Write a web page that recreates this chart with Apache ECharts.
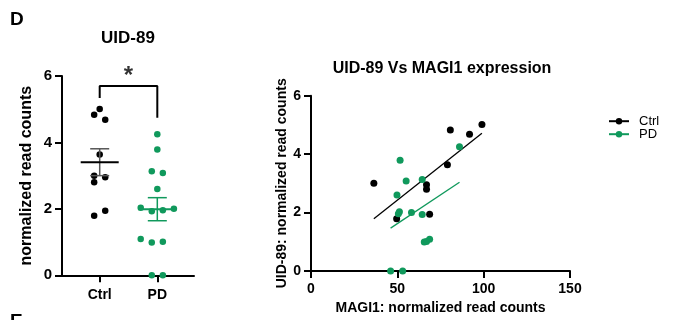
<!DOCTYPE html>
<html><head><meta charset="utf-8">
<script src="https://cdn.jsdelivr.net/npm/echarts@6/dist/echarts.min.js"></script>
<style>html,body{margin:0;padding:0;background:#fff}#c{width:679px;height:320px}</style>
</head><body><div id="c"></div>
<script>
// ---- data ----
const categories = ['Ctrl', 'PD'];
const ctrlUID = [5.01, 4.83, 4.68, 3.64, 3.00, 2.95, 2.80, 1.79, 1.94];
const ctrlJitter = [0, -1, 1, 0, -1, 1, -1, -1, 1];
const pdUID = [4.25, 3.79, 3.13, 3.08, 2.60, 2.03, 1.93, 1.96, 2.00, 1.09, 0.99, 1.01, 0, 0];
const pdJitter = [0, 0, -1, 1, 0, -3, -1, 1, 3, -3, -1, 1, -1, 1];
const ctrlMAGI1 = [99.0, 80.7, 91.8, 79.0, 36.4, 66.9, 66.9, 49.6, 68.7];
const pdMAGI1 = [86.0, 51.6, 64.4, 55.1, 49.8, 51.2, 64.4, 50.6, 58.2, 68.7, 65.6, 66.9, 46.1, 53.1];
const yTicks = [0, 2, 4, 6];
const xTicks = [0, 50, 100, 150];
const sigBracket = [5.34, 5.70, 4.74];
const sigLabel = '*';

// ---- helpers ----
const FONT = '"Liberation Sans", Arial, sans-serif';
const BLACK = '#000000', GREEN = '#10995c';
const mean = a => a.reduce((s, v) => s + v, 0) / a.length;
const sem = a => { const m = mean(a); return Math.sqrt(a.reduce((s, v) => s + (v - m) * (v - m), 0) / (a.length - 1)) / Math.sqrt(a.length); };
function fit(xs, ys) {
  const mx = mean(xs), my = mean(ys);
  let sxy = 0, sxx = 0;
  xs.forEach((x, i) => { sxy += (x - mx) * (ys[i] - my); sxx += (x - mx) * (x - mx); });
  const b = sxy / sxx, a = my - b * mx;
  const x0 = Math.min(...xs), x1 = Math.max(...xs);
  return [[x0, a + b * x0], [x1, a + b * x1]];
}
const J = 0.096;
const catPos = n => categories.indexOf(n) + 1;

function meanSemSeries(name, vals, meanColor, semColor) {
  return {
    type: 'custom', name: name, xAxisIndex: 0, yAxisIndex: 0, z: 5,
    data: [[catPos(name), mean(vals), sem(vals)]],
    renderItem(params, api) {
      const x = api.value(0), m = api.value(1), s = api.value(2);
      const pm = api.coord([x, m]), pt = api.coord([x, m + s]), pb = api.coord([x, m - s]);
      return { type: 'group', children: [
        { type: 'line', shape: { x1: pt[0], y1: pt[1], x2: pb[0], y2: pb[1] }, style: { stroke: semColor, lineWidth: 1.5 } },
        { type: 'line', shape: { x1: pt[0] - 9.5, y1: pt[1], x2: pt[0] + 9.5, y2: pt[1] }, style: { stroke: semColor, lineWidth: 1.5 } },
        { type: 'line', shape: { x1: pb[0] - 9.5, y1: pb[1], x2: pb[0] + 9.5, y2: pb[1] }, style: { stroke: semColor, lineWidth: 1.5 } },
        { type: 'line', shape: { x1: pm[0] - 19, y1: pm[1], x2: pm[0] + 19, y2: pm[1] }, style: { stroke: meanColor, lineWidth: 2 } }
      ]};
    }
  };
}

const axisCommon = {
  axisLine: { show: true, lineStyle: { color: BLACK, width: 2 } },
  axisTick: { show: true, length: 7, lineStyle: { color: BLACK, width: 2 } },
  splitLine: { show: false }
};
const lblStyle = (size, margin) => ({ color: BLACK, fontWeight: 'bold', fontSize: size, fontFamily: FONT, margin: margin });

const chart = echarts.init(document.getElementById('c'), null, { renderer: 'canvas' });
chart.setOption({
  backgroundColor: '#ffffff',
  animation: false,
  graphic: [
    { type: 'text', style: { text: 'D', x: 10, y: 20, textVerticalAlign: 'middle', font: 'bold 19px ' + FONT, fill: BLACK } },
    { type: 'text', style: { text: 'E', x: 10, y: 322, textVerticalAlign: 'middle', font: 'bold 19px ' + FONT, fill: BLACK } },
    { type: 'text', style: { text: 'UID-89', x: 128, y: 38, textAlign: 'center', textVerticalAlign: 'middle', font: 'bold 17px ' + FONT, fill: BLACK } },
    { type: 'text', style: { text: 'UID-89 Vs MAGI1 expression', x: 442, y: 69, textAlign: 'center', textVerticalAlign: 'middle', font: 'bold 16px ' + FONT, fill: BLACK } }
  ],
  legend: {
    data: categories, orient: 'vertical', left: 608, top: 114.7, padding: 0,
    itemWidth: 20, itemHeight: 8, itemGap: 0,
    textStyle: { fontSize: 13, lineHeight: 12.3, fontFamily: FONT, color: BLACK, padding: [0, 0, 0, 5] }
  },
  grid: [
    { left: 62, right: 485, top: 76, bottom: 44.7 },
    { left: 311, right: 109, top: 95.7, bottom: 48.3 }
  ],
  xAxis: [
    Object.assign({}, axisCommon, {
      type: 'value', gridIndex: 0, min: 0.3455, max: 2.637,
      axisTick: { show: true, length: 7, customValues: [1, 2], lineStyle: { color: BLACK, width: 2 } },
      axisLabel: Object.assign(lblStyle(14, 13), { customValues: [1, 2], formatter: v => categories[Math.round(v) - 1] || '' })
    }),
    Object.assign({}, axisCommon, {
      type: 'value', gridIndex: 1, min: xTicks[0], max: xTicks[xTicks.length - 1], interval: xTicks[1] - xTicks[0],
      axisLabel: lblStyle(14, 11),
      name: 'MAGI1: normalized read counts', nameLocation: 'middle', nameGap: 30,
      nameTextStyle: { color: BLACK, fontWeight: 'bold', fontSize: 14, fontFamily: FONT }
    })
  ],
  yAxis: [
    Object.assign({}, axisCommon, {
      type: 'value', gridIndex: 0, min: yTicks[0], max: yTicks[yTicks.length - 1], interval: yTicks[1] - yTicks[0],
      axisLabel: lblStyle(15, 10),
      name: 'normalized read counts', nameLocation: 'middle', nameGap: 27,
      nameTextStyle: { color: BLACK, fontWeight: 'bold', fontSize: 16, fontFamily: FONT }
    }),
    Object.assign({}, axisCommon, {
      type: 'value', gridIndex: 1, min: yTicks[0], max: yTicks[yTicks.length - 1], interval: yTicks[1] - yTicks[0],
      axisLabel: lblStyle(14, 10),
      name: 'UID-89: normalized read counts', nameLocation: 'middle', nameGap: 19,
      nameTextStyle: { color: BLACK, fontWeight: 'bold', fontSize: 14, fontFamily: FONT }
    })
  ],
  series: [
    // right panel: regression lines (first, so legend uses line icon)
    { type: 'line', name: 'Ctrl', xAxisIndex: 1, yAxisIndex: 1, data: fit(ctrlMAGI1, ctrlUID),
      symbol: 'circle', symbolSize: 6, showSymbol: false, color: BLACK,
      lineStyle: { color: BLACK, width: 1.3 }, itemStyle: { color: BLACK }, z: 2 },
    { type: 'line', name: 'PD', xAxisIndex: 1, yAxisIndex: 1, data: fit(pdMAGI1, pdUID),
      symbol: 'circle', symbolSize: 6, showSymbol: false, color: GREEN,
      lineStyle: { color: GREEN, width: 1.3 }, itemStyle: { color: GREEN }, z: 2 },
    { type: 'scatter', name: 'Ctrl', xAxisIndex: 1, yAxisIndex: 1, symbolSize: 7, clip: false,
      data: ctrlMAGI1.map((x, i) => [x, ctrlUID[i]]), itemStyle: { color: BLACK, opacity: 1 }, z: 3 },
    { type: 'scatter', name: 'PD', xAxisIndex: 1, yAxisIndex: 1, symbolSize: 7, clip: false,
      data: pdMAGI1.map((x, i) => [x, pdUID[i]]), itemStyle: { color: GREEN, opacity: 1 }, z: 4 },
    // left panel
    { type: 'scatter', name: 'ctrlDots', xAxisIndex: 0, yAxisIndex: 0, symbolSize: 6.5, clip: false,
      data: ctrlUID.map((v, i) => [catPos('Ctrl') + ctrlJitter[i] * J, v]), itemStyle: { color: BLACK, opacity: 1 }, z: 3 },
    { type: 'scatter', name: 'pdDots', xAxisIndex: 0, yAxisIndex: 0, symbolSize: 6.5, clip: false,
      data: pdUID.map((v, i) => [catPos('PD') + pdJitter[i] * J, v]), itemStyle: { color: GREEN, opacity: 1 }, z: 3 },
    meanSemSeries('Ctrl', ctrlUID, BLACK, '#555555'),
    meanSemSeries('PD', pdUID, GREEN, GREEN),
    { type: 'line', name: 'bracket', xAxisIndex: 0, yAxisIndex: 0, symbol: 'none', clip: false,
      data: [[1, sigBracket[0]], [1, sigBracket[1]], [2, sigBracket[1]], [2, sigBracket[2]]],
      lineStyle: { color: BLACK, width: 2 }, z: 4 },
    { type: 'scatter', name: 'sig', xAxisIndex: 0, yAxisIndex: 0, symbolSize: 0, clip: false,
      data: [[1.5, sigBracket[1]]],
      label: { show: true, position: 'top', distance: -2, formatter: sigLabel, color: BLACK, fontWeight: 'bold', fontSize: 24, fontFamily: FONT } }
  ]
});
</script></body></html>
